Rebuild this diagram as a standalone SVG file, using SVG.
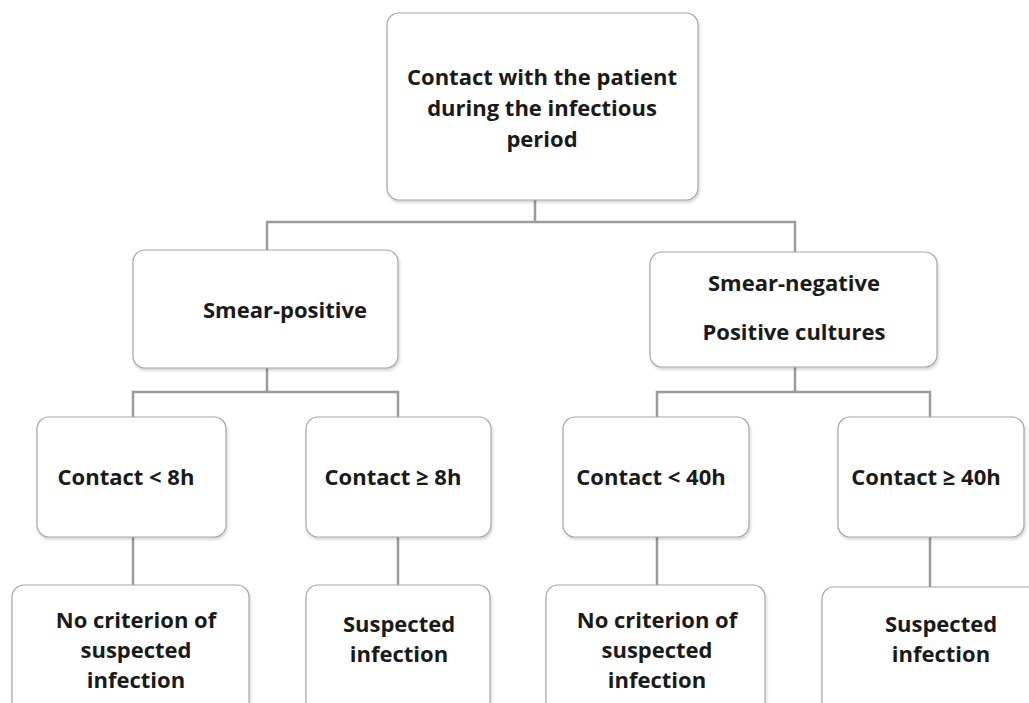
<svg xmlns="http://www.w3.org/2000/svg" width="1029" height="703" viewBox="0 0 1029 703">
<style>
.box{fill:#fff;stroke:#a6a6a6;stroke-width:1.2}
.t{font-family:"Open Sans","Noto Sans",sans-serif;font-weight:bold;font-size:22px;fill:#1a1a1a;text-anchor:middle}
.c{fill:none;stroke:#9b9b9b;stroke-width:2.5}
</style>
<defs>
<filter id="sh" x="-10%" y="-10%" width="120%" height="130%">
<feDropShadow dx="1" dy="2" stdDeviation="1.5" flood-color="#000" flood-opacity="0.18"/>
</filter>
</defs>
<rect width="1029" height="703" fill="#fff"/>
<g id="connectors">
<path class="c" d="M535 200V222M267 250V222H795V252"/>
<path class="c" d="M267 368V392M133 417V392H398V417"/>
<path class="c" d="M795 367V392M657 417V392H930V417"/>
<path class="c" d="M133 537V585M398 537V585M657 537V585M930 537V587"/>
</g>
<g id="n-root"><rect class="box" filter="url(#sh)" x="387" y="13" width="311" height="187" rx="12"/>
<text class="t" x="542" y="85">Contact with the patient</text>
<text class="t" x="542" y="116">during the infectious</text>
<text class="t" x="542" y="147">period</text></g>
<g id="n-smearpos"><rect class="box" filter="url(#sh)" x="133" y="250" width="265" height="118" rx="12"/>
<text class="t" x="285" y="318">Smear-positive</text></g>
<g id="n-smearneg"><rect class="box" filter="url(#sh)" x="650" y="252" width="287" height="115" rx="12"/>
<text class="t" x="794" y="291">Smear-negative</text>
<text class="t" x="794" y="340">Positive cultures</text></g>
<g id="n-lt8"><rect class="box" filter="url(#sh)" x="37" y="417" width="189" height="120" rx="12"/>
<text class="t" x="126" y="485">Contact &lt; 8h</text></g>
<g id="n-ge8"><rect class="box" filter="url(#sh)" x="306" y="417" width="185" height="120" rx="12"/>
<text class="t" x="393" y="485">Contact ≥ 8h</text></g>
<g id="n-lt40"><rect class="box" filter="url(#sh)" x="563" y="417" width="186" height="120" rx="12"/>
<text class="t" x="651" y="485">Contact &lt; 40h</text></g>
<g id="n-ge40"><rect class="box" filter="url(#sh)" x="838" y="417" width="186" height="120" rx="12"/>
<text class="t" x="926" y="485">Contact ≥ 40h</text></g>
<g id="n-nocrit1"><rect class="box" filter="url(#sh)" x="12" y="585" width="237" height="130" rx="12"/>
<text class="t" x="136" y="628">No criterion of</text>
<text class="t" x="136" y="658">suspected</text>
<text class="t" x="136" y="688">infection</text></g>
<g id="n-susp1"><rect class="box" filter="url(#sh)" x="306" y="585" width="184" height="130" rx="12"/>
<text class="t" x="399" y="632">Suspected</text>
<text class="t" x="399" y="662">infection</text></g>
<g id="n-nocrit2"><rect class="box" filter="url(#sh)" x="546" y="585" width="219" height="130" rx="12"/>
<text class="t" x="657" y="628">No criterion of</text>
<text class="t" x="657" y="658">suspected</text>
<text class="t" x="657" y="688">infection</text></g>
<g id="n-susp2"><rect class="box" filter="url(#sh)" x="822" y="587" width="220" height="130" rx="12"/>
<text class="t" x="941" y="632">Suspected</text>
<text class="t" x="941" y="662">infection</text></g>
</svg>
